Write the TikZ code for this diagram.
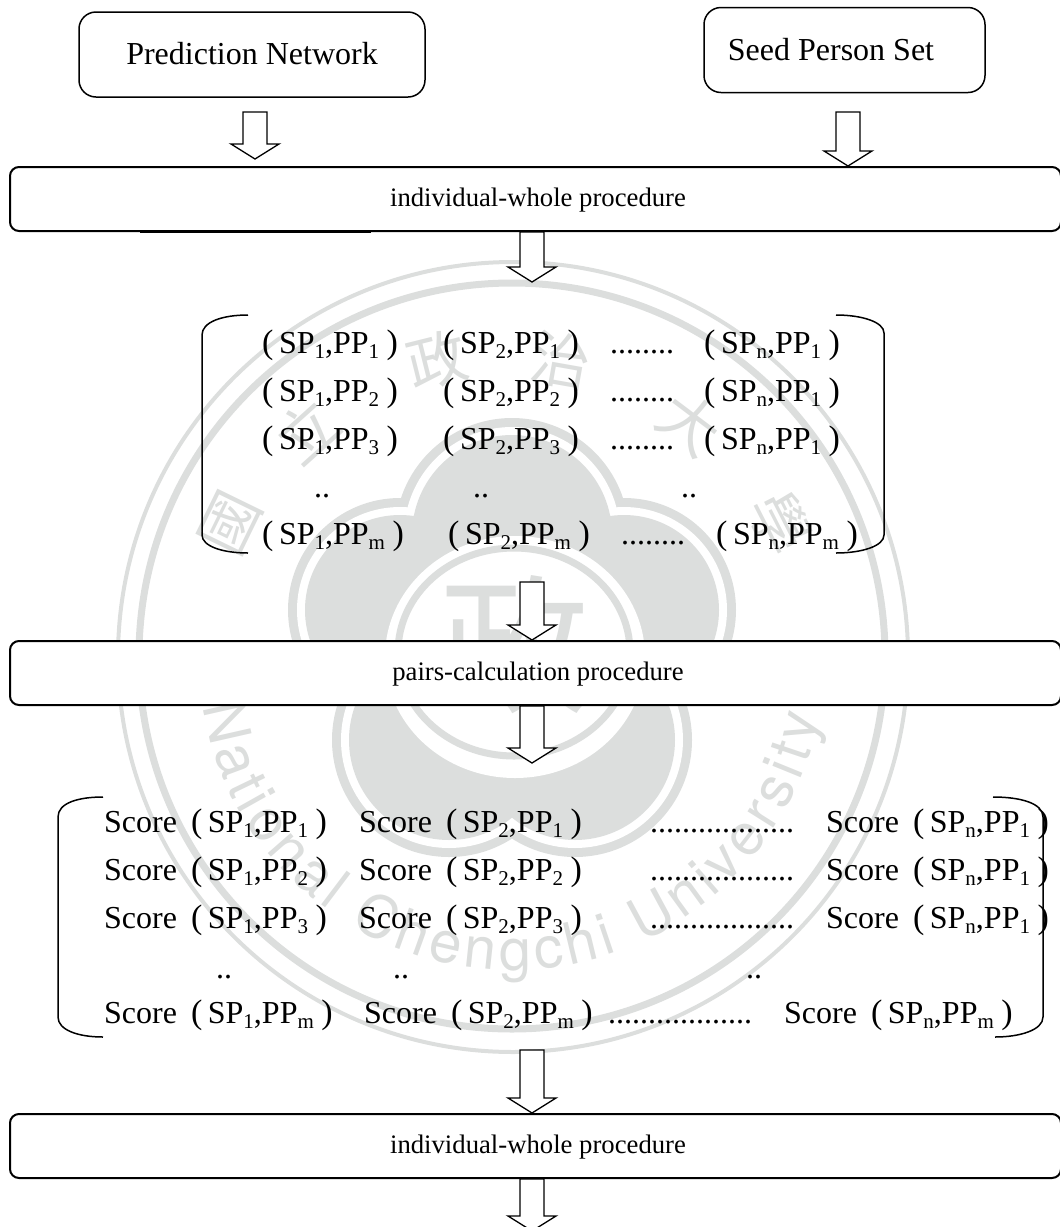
\documentclass[tikz,border=0pt]{standalone}
\usepackage{fontspec}
\setmainfont{Liberation Serif}
\newfontfamily\sealcjk{Noto Sans CJK TC}
\newfontfamily\sealsans{TeX Gyre Heros}
\usetikzlibrary{calc,decorations.text}
\definecolor{sealgrey}{HTML}{DCDEDD}
\newcommand{\sizedtext}[1]{\fontsize{#1}{#1}\selectfont}
\newcommand{\lowidx}[1]{\raisebox{-5pt}{\sizedtext{21}#1}}
\newcommand{\pair}[2]{{\sizedtext{34}(}\kern5.5pt SP\lowidx{#1},PP\lowidx{#2}\kern7.5pt{\sizedtext{34})}}
\newcommand{\scorepair}[2]{Score\kern14pt\pair{#1}{#2}}
\newcommand{\bandtext}[1]{\hspace*{5pt}\raisebox{-7pt}[0pt][0pt]{#1}}
\newcommand{\seallobes}[2]{\fill[#2] (512,535) circle [radius=100+#1] (400,610) circle [radius=95+#1] (624,610) circle [radius=95+#1] (449,740) circle [radius=100+#1] (575,740) circle [radius=100+#1];}

\begin{document}
\begin{tikzpicture}[x=1pt, y=-1pt,
        startbox/.style={rectangle, draw, fill=white, line width=1.5pt, rounded corners=17pt, inner sep=0pt, minimum width=346pt, minimum height=85pt, font=\sizedtext{32}},
        band/.style={rectangle, draw, fill=white, line width=2pt, rounded corners=9pt, inner sep=0pt, minimum width=1051pt, minimum height=64pt, font=\sizedtext{26.7}},
        cell/.style={anchor=base west, inner sep=0pt, font=\sizedtext{32}},
        sealchar/.style={inner sep=0pt, text=sealgrey, font=\sealcjk\sizedtext{60}},
        bracket/.style={line width=1.5pt},
        hollow/.style={draw, fill=white, line width=1.3pt, line join=miter, to path={
            -- ($(\tikztostart)+(12,0)$) -- ($(\tikztotarget)+(12,-15)$) -- ($(\tikztotarget)+(24,-15)$)
            -- (\tikztotarget) -- ($(\tikztotarget)+(-24,-15)$) -- ($(\tikztotarget)+(-12,-15)$)
            -- ($(\tikztostart)+(-12,0)$) -- cycle}}]
        \useasboundingbox (0,0) rectangle (1060,1227);

        % Seal behind the chart
        \draw[sealgrey, line width=4pt] (513,657) circle [radius=395];
        \draw[sealgrey, line width=7pt] (512,656) circle [radius=373];
        \seallobes{17}{sealgrey}
        \seallobes{8}{white}
        \seallobes{0}{sealgrey}
        \fill[white] (515,657) ellipse [x radius=130, y radius=121];
        \draw[sealgrey, line width=7pt] (514,652) ellipse [x radius=116, y radius=104];
        \node[sealchar, font=\sealcjk\sizedtext{150}] (sealcenter) at (514,645) {政};
        \node[sealchar, rotate=64] (sealguo) at (230,523) {國};
        \node[sealchar, rotate=42] (sealli) at (307,430) {立};
        \node[sealchar, rotate=14] (sealzheng) at (437,360) {政};
        \node[sealchar, rotate=-10] (sealzhi) at (561,360) {治};
        \node[sealchar, rotate=-37] (sealda) at (690,423) {大};
        \node[sealchar, rotate=-63] (sealxue) at (780,523) {學};
        \path[decorate, decoration={text along path, text color=sealgrey, text align={fit to path},
            text={|\sealsans\sizedtext{58}|National Chengchi University}}]
            (512,657) ++(171:313) arc [start angle=171, end angle=11, radius=313];

        % Inputs
        \node[startbox] (prediction) at (252,54.5) {\raisebox{2pt}{Prediction Network}};
        \node[startbox, minimum width=281pt] (seedset) at (844.5,50) {\raisebox{2pt}{Seed Person Set}\hspace*{27pt}};

        % Procedures
        \node[band] (wholeA) at (535.5,199) {\bandtext{individual-whole procedure}};
        \node[band] (calc) at (535.5,673) {\bandtext{pairs-calculation procedure}};
        \node[band] (wholeB) at (535.5,1146) {\bandtext{individual-whole procedure}};

        % Pairs
        \draw[bracket] (248,315) .. controls (222,315) and (202,322) .. (202,335) -- (202,535) .. controls (202,546) and (222,553) .. (248,553);
        \draw[bracket] (836,315) .. controls (862,315) and (884,322) .. (884,333) -- (884,535) .. controls (884,546) and (862,553) .. (836,553);
        \node[cell] (pairAa) at (262,353) {\pair{1}{1}};
        \node[cell] (pairBa) at (443,353) {\pair{2}{1}};
        \node[cell] (dotsa) at (610,353) {........};
        \node[cell] (pairNa) at (704,353) {\pair{n}{1}};
        \node[cell] (pairAb) at (262,401) {\pair{1}{2}};
        \node[cell] (pairBb) at (443,401) {\pair{2}{2}};
        \node[cell] (dotsb) at (610,401) {........};
        \node[cell] (pairNb) at (704,401) {\pair{n}{1}};
        \node[cell] (pairAc) at (262,449) {\pair{1}{3}};
        \node[cell] (pairBc) at (443,449) {\pair{2}{3}};
        \node[cell] (dotsc) at (610,449) {........};
        \node[cell] (pairNc) at (704,449) {\pair{n}{1}};
        \node[cell] (gapA) at (314,497) {..};
        \node[cell] (gapB) at (473,497) {..};
        \node[cell] (gapN) at (681,497) {..};
        \node[cell] (pairAm) at (262,544) {\pair{1}{m}};
        \node[cell] (pairBm) at (448,544) {\pair{2}{m}};
        \node[cell] (dotsm) at (621,544) {........};
        \node[cell] (pairNm) at (716,544) {\pair{n}{m}};

        % Scores
        \draw[bracket] (103,797) .. controls (78,797) and (58,803) .. (58,817) -- (58,1017) .. controls (58,1030) and (78,1037) .. (103,1037);
        \draw[bracket] (993,797) .. controls (1020,797) and (1043,803) .. (1043,817) -- (1043,1017) .. controls (1043,1030) and (1020,1037) .. (995,1037);
        \node[cell] (scoreAa) at (104,832) {\scorepair{1}{1}};
        \node[cell] (scoreBa) at (359,832) {\scorepair{2}{1}};
        \node[cell] (sdotsa) at (650,832) {..................};
        \node[cell] (scoreNa) at (826,832) {\scorepair{n}{1}};
        \node[cell] (scoreAb) at (104,880) {\scorepair{1}{2}};
        \node[cell] (scoreBb) at (359,880) {\scorepair{2}{2}};
        \node[cell] (sdotsb) at (650,880) {..................};
        \node[cell] (scoreNb) at (826,880) {\scorepair{n}{1}};
        \node[cell] (scoreAc) at (104,928) {\scorepair{1}{3}};
        \node[cell] (scoreBc) at (359,928) {\scorepair{2}{3}};
        \node[cell] (sdotsc) at (650,928) {..................};
        \node[cell] (scoreNc) at (826,928) {\scorepair{n}{1}};
        \node[cell] (sgapA) at (216,978) {..};
        \node[cell] (sgapB) at (393,978) {..};
        \node[cell] (sgapN) at (746,978) {..};
        \node[cell] (scoreAm) at (104,1023) {\scorepair{1}{m}};
        \node[cell] (scoreBm) at (364,1023) {\scorepair{2}{m}};
        \node[cell] (sdotsm) at (608,1023) {..................};
        \node[cell] (scoreNm) at (784,1023) {\scorepair{n}{m}};

        % Free arrow ends
        \coordinate (predfoot) at (255,112);
        \coordinate (predtip) at (255,159);
        \coordinate (seedfoot) at (848,112);
        \coordinate (pairstip) at (532,282);
        \coordinate (pairsfoot) at (532,582);
        \coordinate (scorestip) at (532,763);
        \coordinate (scoresfoot) at (532,1050);
        \coordinate (resulttip) at (532,1231);

        % Arrows
        \draw[hollow] (predfoot) to (predtip);
        \draw[hollow] (seedfoot) to (wholeA.north -| seedfoot);
        \draw[hollow] (wholeA.south -| pairstip) to (pairstip);
        \draw[hollow] (pairsfoot) to (calc.north -| pairsfoot);
        \draw[hollow] (calc.south -| scorestip) to (scorestip);
        \draw[hollow] (scoresfoot) to (wholeB.north -| scoresfoot);
        \draw[hollow] (wholeB.south -| resulttip) to (resulttip);

        % Stray rule under the first procedure
        \coordinate (rulestart) at (140,232.5);
        \coordinate (ruleend) at (371,232.5);
        \draw[line width=1.5pt] (rulestart) -- (ruleend);

    \end{tikzpicture}
\end{document}
